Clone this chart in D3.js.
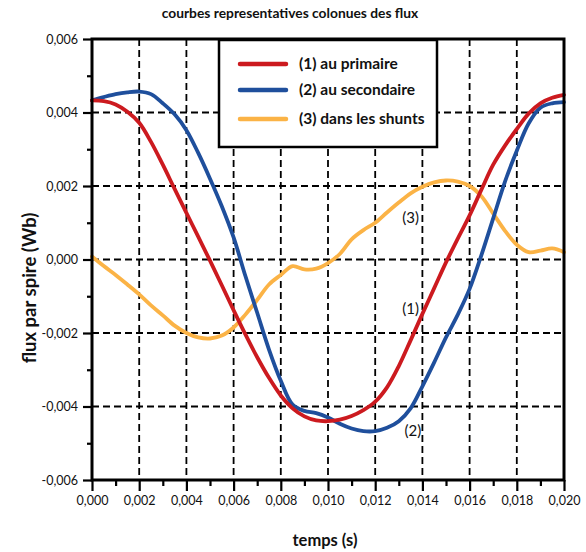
<!DOCTYPE html>
<html>
<head>
<meta charset="utf-8">
<script src="https://cdn.jsdelivr.net/npm/d3@7"></script>
<style>
  html, body { margin: 0; padding: 0; background: #fff; }
  svg { display: block; }
  text { font-family: Lato, "Open Sans", sans-serif; fill: #111; }
</style>
</head>
<body>
<svg id="chart" width="586" height="552"></svg>
<script>
// ---- data (time in ms, flux in mWb) ----
const timeMs = [0,0.5,1,1.5,2,2.5,3,3.5,4,4.5,5,5.5,6,6.5,7,7.5,8,8.5,9,9.5,10,
                10.5,11,11.5,12,12.5,13,13.5,14,14.5,15,15.5,16,16.5,17,17.5,18,18.5,19,19.5,20];
const primaire = [4.33,4.31,4.22,4.02,3.72,3.2,2.58,1.92,1.27,0.62,-0.03,-0.7,-1.38,-2.04,-2.66,-3.22,-3.7,-4.05,-4.27,-4.38,-4.4,
                  -4.36,-4.26,-4.1,-3.87,-3.48,-2.9,-2.2,-1.48,-0.78,-0.08,0.57,1.2,1.9,2.58,3.1,3.55,3.97,4.25,4.4,4.48];
const secondaire = [4.33,4.42,4.5,4.55,4.57,4.5,4.25,3.95,3.52,2.9,2.2,1.45,0.6,-0.45,-1.45,-2.45,-3.3,-3.95,-4.12,-4.18,-4.3,
                    -4.47,-4.6,-4.67,-4.67,-4.58,-4.4,-4.05,-3.45,-2.8,-2.12,-1.5,-0.8,0.12,1.12,2.12,2.96,3.7,4.13,4.25,4.28];
const shunts = [0.08,-0.18,-0.42,-0.68,-0.95,-1.25,-1.52,-1.8,-2.0,-2.12,-2.15,-2.07,-1.85,-1.5,-1.1,-0.68,-0.42,-0.18,-0.27,-0.25,-0.1,
                0.15,0.55,0.8,1.0,1.28,1.55,1.8,1.98,2.1,2.15,2.12,2.0,1.72,1.25,0.78,0.4,0.2,0.24,0.3,0.2];

const seriesNames = ["(1) au primaire", "(2) au secondaire", "(3) dans les shunts"];
const seriesColors = ["#cc1a1f", "#1f4f9c", "#fbb346"];
const xTickValues = [0,0.002,0.004,0.006,0.008,0.010,0.012,0.014,0.016,0.018,0.020];
const xMinorValues = [0.001,0.003,0.005,0.007,0.009,0.011,0.013,0.015,0.017,0.019];
const yTickValues = [-0.006,-0.004,-0.002,0,0.002,0.004,0.006];
const yMinorValues = [-0.005,-0.003,-0.001,0.001,0.003,0.005];
const curveLabels = [
  {text: "(3)", t: 0.0135, v: 0.00113},
  {text: "(1)", t: 0.0135, v: -0.00134},
  {text: "(2)", t: 0.0136, v: -0.00467}
];
const titleText = "courbes representatives colonues des flux";
const xLabel = "temps (s)";
const yLabel = "flux par spire (Wb)";

// ---- layout ----
const svg = d3.select("#chart");
const pL = 92, pR = 564, pT = 39, pB = 480;
const x = d3.scaleLinear().domain([0, 0.020]).range([pL, pR]);
const y = d3.scaleLinear().domain([-0.006, 0.006]).range([pB, pT]);
const fmt = v => (v < -1e-12 ? "-" : "") + Math.abs(v).toFixed(3).replace(".", ",");

// grid
const grid = svg.append("g").attr("stroke", "#000").attr("stroke-width", 1.8).attr("stroke-dasharray", "7,4");
grid.selectAll("line.v").data(xTickValues.slice(1, -1)).join("line").attr("class", "v")
  .attr("x1", d => x(d)).attr("x2", d => x(d)).attr("y1", pT).attr("y2", pB);
grid.selectAll("line.h").data(yTickValues.slice(1, -1)).join("line").attr("class", "h")
  .attr("y1", d => y(d)).attr("y2", d => y(d)).attr("x1", pL).attr("x2", pR);

// curves
const data = [primaire, secondaire, shunts].map(s => s.map((v, i) => [timeMs[i] / 1000, v / 1000]));
const line = d3.line().x(d => x(d[0])).y(d => y(d[1])).curve(d3.curveCatmullRom.alpha(0.5));
svg.append("g").selectAll("path").data(data.slice().reverse()).join("path")
  .attr("d", line).attr("fill", "none")
  .attr("stroke", (d, i) => seriesColors[2 - i]).attr("stroke-width", 3.8)
  .attr("stroke-linejoin", "round").attr("stroke-linecap", "round");

// frame
svg.append("rect").attr("x", pL).attr("y", pT).attr("width", pR - pL).attr("height", pB - pT)
  .attr("fill", "none").attr("stroke", "#000").attr("stroke-width", 3);

// axes
const xAxis = svg.append("g").attr("transform", `translate(0,${pB})`)
  .call(d3.axisBottom(x).tickValues(xTickValues).tickFormat(fmt).tickSize(11).tickPadding(5));
const xMinor = svg.append("g").attr("transform", `translate(0,${pB})`)
  .call(d3.axisBottom(x).tickValues(xMinorValues).tickFormat("").tickSize(6));
const yAxis = svg.append("g").attr("transform", `translate(${pL},0)`)
  .call(d3.axisLeft(y).tickValues(yTickValues).tickFormat(fmt).tickSize(9).tickPadding(5));
const yMinor = svg.append("g").attr("transform", `translate(${pL},0)`)
  .call(d3.axisLeft(y).tickValues(yMinorValues).tickFormat("").tickSize(5));
[xAxis, xMinor, yAxis, yMinor].forEach(g => {
  g.select(".domain").remove();
  g.selectAll(".tick line").attr("stroke", "#000").attr("stroke-width", 2.2);
  g.selectAll(".tick text").attr("font-family", "Lato, sans-serif").attr("font-size", 12.5).attr("fill", "#111");
});

// curve labels
svg.append("g").selectAll("text").data(curveLabels).join("text")
  .attr("x", d => x(d.t)).attr("y", d => y(d.v)).attr("text-anchor", "middle").attr("dy", "0.35em")
  .attr("font-size", 15).text(d => d.text);

// legend
const lg = svg.append("g");
lg.append("rect").attr("x", 219).attr("y", 40).attr("width", 218).attr("height", 107)
  .attr("fill", "#fff").attr("stroke", "#000").attr("stroke-width", 2.5);
const rowsY = [64, 90, 119];
seriesNames.forEach((n, i) => {
  lg.append("line").attr("x1", 240).attr("x2", 286).attr("y1", rowsY[i]).attr("y2", rowsY[i])
    .attr("stroke", seriesColors[i]).attr("stroke-width", 4.5).attr("stroke-linecap", "round");
  lg.append("text").attr("x", 299).attr("y", rowsY[i]).attr("dy", "0.35em")
    .attr("font-size", 15.5).attr("font-weight", "bold").text(n);
});

// titles
svg.append("text").attr("x", 290).attr("y", 18).attr("text-anchor", "middle")
  .attr("font-size", 13.8).attr("font-weight", "bold").text(titleText);
svg.append("text").attr("x", 325).attr("y", 546).attr("text-anchor", "middle")
  .attr("font-size", 16.5).attr("font-weight", "bold").text(xLabel);
svg.append("text").attr("transform", "translate(36,288) rotate(-90)").attr("text-anchor", "middle")
  .attr("font-size", 18.5).attr("font-weight", "bold").text(yLabel);
</script>
</body>
</html>
